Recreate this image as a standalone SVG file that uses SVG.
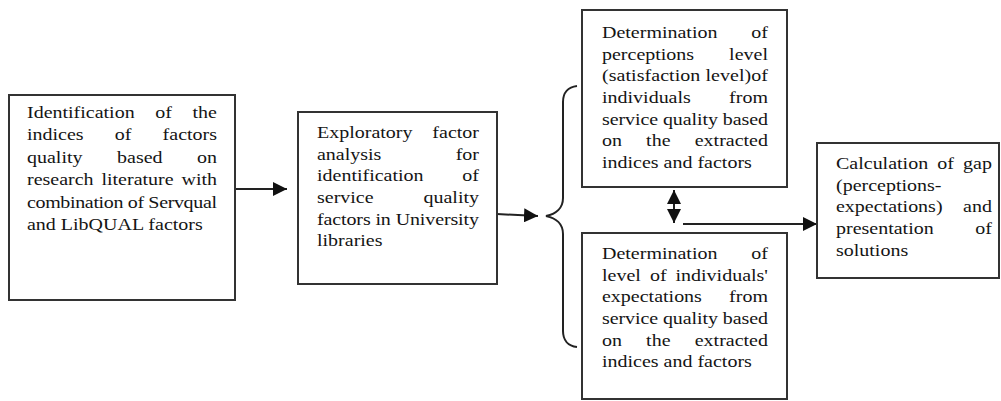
<svg xmlns="http://www.w3.org/2000/svg" width="1001" height="401" viewBox="0 0 1001 401">
  <style>
    .box { fill: #ffffff; stroke: #333333; stroke-width: 2; }
    .wire { fill: none; stroke: #222222; stroke-width: 2; }
    text { font-family: "Liberation Serif", "Times New Roman", serif; font-size: 17.6px; fill: #141414; }
    .m { text-anchor: middle; }
    .e { text-anchor: end; }
  </style>
  <defs>
    <marker id="head" markerUnits="userSpaceOnUse" markerWidth="15" markerHeight="14" refX="14" refY="7" orient="auto-start-reverse">
      <path d="M0,0 L14,7 L0,14 z" fill="#111111"/>
    </marker>
  </defs>
  <rect width="1001" height="401" fill="#ffffff"/>

  <!-- connectors -->
  <g id="connectors">
    <line class="wire" x1="235" y1="189" x2="287" y2="189" marker-end="url(#head)"/>
    <line class="wire" x1="497" y1="214" x2="538" y2="216" marker-end="url(#head)"/>
    <path class="wire" d="M577,86 C568,87 563,93 563,102 L563,198 C563,208 556,214 546,216 C556,218 563,224 563,234 L563,331 C563,340 568,346 577,347"/>
    <line class="wire" x1="674" y1="190" x2="674" y2="223" marker-start="url(#head)" marker-end="url(#head)"/>
    <line class="wire" x1="683" y1="224" x2="817" y2="224" marker-end="url(#head)"/>
  </g>

  <!-- step 1 -->
  <g id="node-identification">
    <rect class="box" x="9" y="95" width="226" height="205"/>
    <g transform="translate(27 0) scale(1.136 1)">
      <text x="0" y="118">Identification</text><text class="m" x="120.3" y="118">of</text><text class="e" x="167.25" y="118">the</text>
      <text x="0" y="140.5">indices</text><text class="m" x="84.6" y="140.5">of</text><text class="e" x="167.25" y="140.5">factors</text>
      <text x="0" y="163">quality</text><text class="m" x="99.3" y="163">based</text><text class="e" x="167.25" y="163">on</text>
      <text x="0" y="185.5">research</text><text class="m" x="97.3" y="185.5">literature</text><text class="e" x="167.25" y="185.5">with</text>
      <text x="0" y="208" textLength="167.25" lengthAdjust="spacing">combination of Servqual</text>
      <text x="0" y="230.5">and LibQUAL factors</text>
    </g>
  </g>

  <!-- step 2 -->
  <g id="node-factor-analysis">
    <rect class="box" x="298" y="112" width="199" height="172"/>
    <g transform="translate(317 0) scale(1.136 1)">
      <text x="0" y="138">Exploratory</text><text class="e" x="142.6" y="138">factor</text>
      <text x="0" y="159.7">analysis</text><text class="e" x="142.6" y="159.7">for</text>
      <text x="0" y="181.4">identification</text><text class="e" x="142.6" y="181.4">of</text>
      <text x="0" y="203.1">service</text><text class="e" x="142.6" y="203.1">quality</text>
      <text x="0" y="224.8" textLength="142.6" lengthAdjust="spacing">factors in University</text>
      <text x="0" y="246.5">libraries</text>
    </g>
  </g>

  <!-- step 3a: perceptions -->
  <g id="node-perceptions">
    <rect class="box" x="582" y="10" width="205" height="177"/>
    <g transform="translate(602 0) scale(1.136 1)">
      <text x="0" y="38">Determination</text><text class="e" x="146.1" y="38">of</text>
      <text x="0" y="59.7">perceptions</text><text class="e" x="146.1" y="59.7">level</text>
      <text x="0" y="81.4" textLength="146.1" lengthAdjust="spacing">(satisfaction level)of</text>
      <text x="0" y="103.1">individuals</text><text class="e" x="146.1" y="103.1">from</text>
      <text x="0" y="124.8" textLength="146.1" lengthAdjust="spacing">service quality based</text>
      <text x="0" y="146.5">on</text><text class="m" x="49.6" y="146.5">the</text><text class="e" x="146.1" y="146.5">extracted</text>
      <text x="0" y="168.2">indices and factors</text>
    </g>
  </g>

  <!-- step 3b: expectations -->
  <g id="node-expectations">
    <rect class="box" x="582" y="233" width="205" height="166"/>
    <g transform="translate(602 0) scale(1.136 1)">
      <text x="0" y="259">Determination</text><text class="e" x="146.1" y="259">of</text>
      <text x="0" y="280.7">level</text><text class="m" x="49.5" y="280.7">of</text><text class="e" x="146.1" y="280.7">individuals'</text>
      <text x="0" y="302.4">expectations</text><text class="e" x="146.1" y="302.4">from</text>
      <text x="0" y="324.1" textLength="146.1" lengthAdjust="spacing">service quality based</text>
      <text x="0" y="345.8">on</text><text class="m" x="49.6" y="345.8">the</text><text class="e" x="146.1" y="345.8">extracted</text>
      <text x="0" y="367.5">indices and factors</text>
    </g>
  </g>

  <!-- step 4 -->
  <g id="node-gap">
    <rect class="box" x="817" y="143" width="182" height="135"/>
    <g transform="translate(836 0) scale(1.136 1)">
      <text x="0" y="169">Calculation</text><text class="m" x="96.5" y="169">of</text><text class="e" x="137.3" y="169">gap</text>
      <text x="0" y="190.7">(perceptions-</text>
      <text x="0" y="212.4">expectations)</text><text class="e" x="137.3" y="212.4">and</text>
      <text x="0" y="234.1">presentation</text><text class="e" x="137.3" y="234.1">of</text>
      <text x="0" y="255.8">solutions</text>
    </g>
  </g>
</svg>
